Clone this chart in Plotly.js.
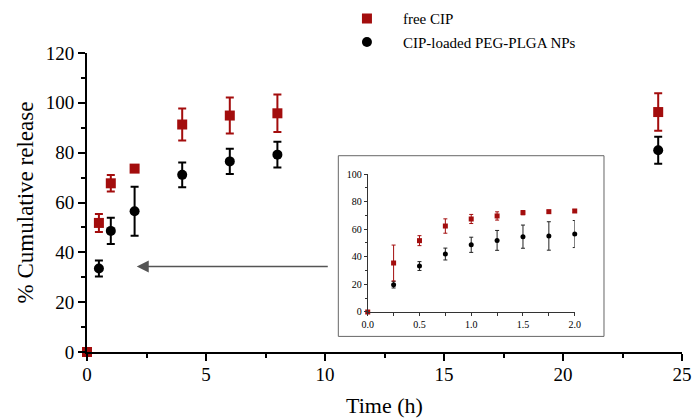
<!DOCTYPE html>
<html>
<head>
<meta charset="utf-8">
<script src="https://cdn.plot.ly/plotly-3.0.1.min.js"></script>
<style>html,body{margin:0;padding:0;background:#fff;}#chart{width:696px;height:418px;}</style>
</head>
<body>
<div id="chart"></div>
<script>
// Main chart data
var mainTime = [0, 0.5, 1, 2, 4, 6, 8, 24];
var freeCIP = [0, 51.8, 67.7, 73.6, 91.3, 94.9, 95.8, 96.3];
var freeCIPErr = [0, 3.6, 3.3, 0.8, 6.4, 7.2, 7.5, 7.5];
var nps = [0, 33.5, 48.6, 56.5, 71.1, 76.5, 79.2, 81.0];
var npsErr = [0, 3.2, 5.3, 9.8, 5.0, 5.1, 5.2, 5.4];

// Inset data (first 2 h)
var insetTime = [0, 0.25, 0.5, 0.75, 1.0, 1.25, 1.5, 1.75, 2.0];
var insetFree = [0, 35.5, 51.7, 62.3, 67.4, 69.6, 72.0, 72.7, 73.2];
var insetFreeErr = [0, 13.0, 3.6, 5.2, 3.3, 3.0, 1.5, 1.0, 1.0];
var insetNps = [0, 19.8, 33.3, 42.0, 48.7, 51.9, 54.6, 55.1, 56.5];
var insetNpsErr = [0, 2.4, 3.2, 4.3, 5.5, 7.2, 8.4, 10.3, 9.8];

var seriesNames = ['free CIP', 'CIP-loaded PEG-PLGA NPs'];
var red = '#a30d0d';
var black = '#000000';
var serif = 'Liberation Serif';

var traces = [
  {x: mainTime, y: nps, name: seriesNames[1], legendgroup: 'nps', legendrank: 2, type: 'scatter', mode: 'markers',
   marker: {symbol: 'circle', size: 10, color: black},
   error_y: {type: 'data', array: npsErr, visible: true, color: black, thickness: 2, width: 4},
   cliponaxis: false, xaxis: 'x', yaxis: 'y'},
  {x: mainTime, y: freeCIP, name: seriesNames[0], legendgroup: 'free', legendrank: 1, type: 'scatter', mode: 'markers',
   marker: {symbol: 'square', size: 10, color: red},
   error_y: {type: 'data', array: freeCIPErr, visible: true, color: red, thickness: 2, width: 4},
   cliponaxis: false, xaxis: 'x', yaxis: 'y'},
  {x: insetTime.slice(1), y: insetNps.slice(1), name: seriesNames[1], legendgroup: 'nps', legendrank: 2, showlegend: false, type: 'scatter', mode: 'markers',
   marker: {symbol: 'circle', size: 5, color: black},
   error_y: {type: 'data', array: insetNpsErr.slice(1), visible: true, color: '#222', thickness: 1, width: 2},
   cliponaxis: false, xaxis: 'x2', yaxis: 'y2'},
  {x: insetTime, y: insetFree, name: seriesNames[0], legendgroup: 'free', legendrank: 1, showlegend: false, type: 'scatter', mode: 'markers',
   marker: {symbol: 'square', size: 5, color: red},
   error_y: {type: 'data', array: insetFreeErr, visible: true, color: red, thickness: 1, width: 2},
   cliponaxis: false, xaxis: 'x2', yaxis: 'y2'}
];

var layout = {
  width: 696, height: 418,
  margin: {l: 87, r: 14, t: 53, b: 66, autoexpand: false},
  paper_bgcolor: '#fff', plot_bgcolor: 'rgba(0,0,0,0)',
  font: {family: serif, color: '#000'},
  showlegend: true,
  legend: {x: 0.410, y: 1.17, xanchor: 'left', yanchor: 'top', traceorder: 'grouped', tracegroupgap: 1,
           font: {family: serif, size: 15, color: '#000'}, bgcolor: 'rgba(0,0,0,0)', itemwidth: 62},
  xaxis: {range: [0, 25], domain: [0, 1], showgrid: false, zeroline: false, showline: true,
          linecolor: '#000', linewidth: 2, ticks: 'outside', tickwidth: 2, ticklen: 7, tickcolor: '#000',
          tickvals: [0, 5, 10, 15, 20, 25], ticklabelstandoff: -3,
          minor: {tickvals: [2.5, 7.5, 12.5, 17.5, 22.5], ticks: 'outside', ticklen: 4, tickwidth: 2, tickcolor: '#000'},
          tickfont: {family: serif, size: 19}, anchor: 'y',
          title: {text: 'Time (h)', font: {family: serif, size: 22}, standoff: 17}},
  yaxis: {range: [0, 120], domain: [0, 1], showgrid: false, zeroline: false, showline: true,
          linecolor: '#000', linewidth: 2, ticks: 'outside', tickwidth: 2, ticklen: 7, tickcolor: '#000',
          tickvals: [0, 20, 40, 60, 80, 100, 120],
          minor: {tickvals: [10, 30, 50, 70, 90, 110], ticks: 'outside', ticklen: 4, tickwidth: 2, tickcolor: '#000'},
          tickfont: {family: serif, size: 19}, anchor: 'x',
          title: {text: '% Cumulative release', font: {family: serif, size: 23}, standoff: 6}},
  xaxis2: {range: [0, 2], domain: [0.4718, 0.8197], anchor: 'y2', showgrid: false, zeroline: false,
           showline: true, linecolor: '#333', linewidth: 1, ticks: 'outside', ticklen: 3, tickwidth: 1, tickcolor: '#333',
           tickvals: [0, 0.5, 1.0, 1.5, 2.0], ticktext: ['0.0', '0.5', '1.0', '1.5', '2.0'],
           minor: {tickvals: [0.25, 0.75, 1.25, 1.75], ticks: 'outside', ticklen: 3, tickwidth: 1, tickcolor: '#333'},
           tickfont: {family: serif, size: 10}},
  yaxis2: {range: [0, 100], domain: [0.1338, 0.5953], anchor: 'x2', showgrid: false, zeroline: false,
           showline: true, linecolor: '#333', linewidth: 1, ticks: 'outside', ticklen: 3, tickwidth: 1, tickcolor: '#333',
           tickvals: [0, 20, 40, 60, 80, 100],
           minor: {tickvals: [10, 30, 50, 70, 90], ticks: 'outside', ticklen: 2, tickwidth: 1, tickcolor: '#333'},
           tickfont: {family: serif, size: 10}},
  shapes: [
    {type: 'rect', xref: 'paper', yref: 'paper', x0: 0.4224, x1: 0.8689, y0: 0.0522, y1: 0.6565,
     line: {color: '#666', width: 1}, fillcolor: 'rgba(0,0,0,0)', layer: 'below'}
  ],
  annotations: [
    {x: 2.09, y: 34.3, ax: 10.18, ay: 34.3, xref: 'x', yref: 'y', axref: 'x', ayref: 'y',
     text: '', showarrow: true, arrowhead: 2, arrowsize: 1.6, arrowwidth: 1.5, arrowcolor: '#555'}
  ]
};

Plotly.newPlot('chart', traces, layout, {displayModeBar: false, staticPlot: true});
</script>
</body>
</html>
